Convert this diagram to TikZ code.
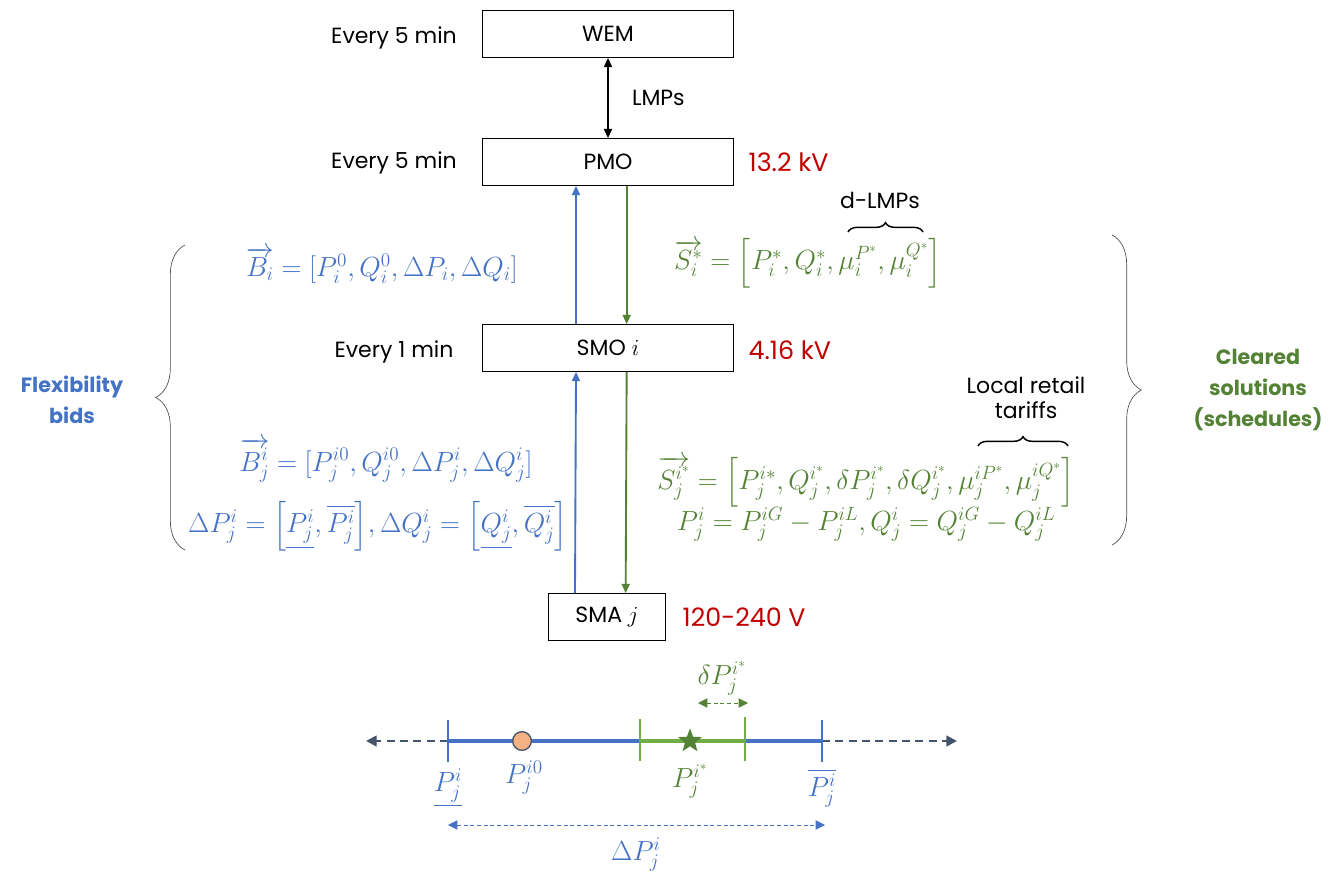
\documentclass[tikz,border=0pt]{standalone}
\usepackage{fontspec}
\setmainfont{Poppins}
\usepackage{amsmath}
\usetikzlibrary{arrows.meta,positioning,calc,decorations.pathreplacing,shapes.geometric}
\definecolor{bidblue}{HTML}{4472C4}
\definecolor{solgreen}{HTML}{548235}
\definecolor{lightgreen}{HTML}{70AD47}
\definecolor{voltred}{HTML}{C00000}
\definecolor{dashgray}{HTML}{44546A}
\definecolor{peach}{HTML}{F4B183}
\newcommand\basefont{\fontsize{16.5}{19}\selectfont}
\newcommand\eqfont{\fontsize{19.5}{22}\selectfont}
\tikzset{
  agent/.style={draw, line width=.7pt, minimum width=188pt, minimum height=35pt,
    inner sep=0pt, font=\basefont},
  rate/.style={font=\basefont},
  volt/.style={text=voltred, font=\fontsize{19}{22}\selectfont, anchor=west},
  bideq/.style={text=bidblue, font=\eqfont, inner sep=1pt},
  soleq/.style={text=solgreen, font=\eqfont, inner sep=1pt},
  note/.style={font=\basefont, align=center},
  side/.style={font=\fontsize{15.5}{23}\selectfont\bfseries, align=center},
  flow/.style={line width=1.4pt, -{Triangle[length=7pt,width=6pt]}},
  bigbrace/.style={decorate, decoration={brace, amplitude=22pt}, line width=.5pt, draw=black!70},
  smallbrace/.style={decorate, decoration={brace, amplitude=7pt}, line width=1.1pt},
  rangeline/.style={dash pattern=on 3pt off 2pt, line width=.6pt, {Triangle[length=7pt,width=7pt]}-{Triangle[length=7pt,width=7pt]}},
  tick/.style={line width=1.6pt},
}

\begin{document}
\begin{tikzpicture}[x=0.75pt,y=-0.75pt]
\useasboundingbox (0,0) rectangle (1329,878);

% ----- market agents -----
\node[agent] (wem) at (608,34) {WEM};
\node[agent] (pmo) at (608,162) {PMO};
\node[agent] (smo) at (608,348) {SMO $i$};
\node[agent, minimum width=88pt] (sma) at (607,617) {SMA $j$};

% ----- clearing intervals -----
\node[rate] (r1) at (394,38) {Every 5 min};
\node[rate] (r2) at (394,163) {Every 5 min};
\node[rate] (r3) at (394,352) {Every 1 min};

% ----- voltage levels -----
\node[volt] (v1) at (744,162) {13.2 kV};
\node[volt] (v2) at (744,350) {4.16 kV};
\node[volt] (v3) at (678,617) {120-240 V};

% ----- flows between levels -----
\draw[flow, {Triangle[length=7pt,width=6pt]}-{Triangle[length=7pt,width=6pt]}] (wem.south) -- node[note, right=14pt]{LMPs} (pmo.north);
\draw[flow, bidblue] ([xshift=-24pt]smo.north) -- ([xshift=-24pt]pmo.south);
\draw[flow, solgreen] ([xshift=14pt]pmo.south) -- ([xshift=14pt]smo.north);
\draw[flow, bidblue] ([xshift=-24pt]sma.north) -- ([xshift=-24pt]smo.south);
\draw[flow, solgreen] ([xshift=14pt]smo.south) -- ([xshift=14pt]sma.north);

% ----- bids (upward) -----
\node[bideq] (bi) at (382,265) {$\overrightarrow{B_i}=[P_i^0,Q_i^0,\Delta P_i,\Delta Q_i]$};
\node[bideq] (bj) at (386,460) {$\overrightarrow{B_j^i}=[P_j^{i0},Q_j^{i0},\Delta P_j^i,\Delta Q_j^i]$};
\node[bideq] (dp) at (378,526) {$\Delta P_j^i=\Bigl[\underline{P_j^i},\overline{P_j^i}\Bigr],\Delta Q_j^i=\Bigl[\underline{Q_j^i},\overline{Q_j^i}\Bigr]$};

% ----- solutions (downward) -----
\node[soleq] (si) at (808,263) {$\overrightarrow{S_i^*}=\Bigl[P_i^*,Q_i^*,\mu_i^{P^*},\mu_i^{Q^*}\Bigr]$};
\node[soleq] (sj) at (866,482) {$\overrightarrow{S_j^{i^*}}=\Bigl[P_j^{i*},Q_j^{i^*},\delta P_j^{i^*},\delta Q_j^{i^*},\mu_j^{iP^*},\mu_j^{iQ^*}\Bigr]$};
\node[soleq] (pj) at (866,524) {$P_j^i=P_j^{iG}-P_j^{iL},Q_j^i=Q_j^{iG}-Q_j^{iL}$};

% ----- price annotations -----
\draw[smallbrace] (848,232) -- (923,232);
\node[note] (dlmp) at (880,200) {d-LMPs};
\draw[smallbrace] (978,446) -- (1068,446);
\node[note] (tariff) at (1026,398) {Local retail\\tariffs};

% ----- side braces -----
\draw[bigbrace] (185,550) -- (185,245);
\node[side, text=bidblue] (flex) at (72,400) {Flexibility\\bids};
\draw[bigbrace] (1112,235) -- (1112,545);
\node[side, text=solgreen] (clear) at (1258,390) {Cleared\\solutions\\(schedules)};

% ----- flexibility range of SMA j -----
\coordinate (lo) at (448,741);
\coordinate (hi) at (822,741);
\coordinate (glo) at (640,741);
\coordinate (ghi) at (745,741);
\draw[dashgray, dash pattern=on 6pt off 4pt, line width=1.8pt, -{Triangle[length=8pt,width=8pt]}] (lo) -- (366,741);
\draw[dashgray, dash pattern=on 6pt off 4pt, line width=1.8pt, -{Triangle[length=8pt,width=8pt]}] (hi) -- (957,741);
\draw[bidblue, line width=2.6pt] (lo) -- (hi);
\draw[lightgreen, line width=2.6pt] (glo) -- (ghi);
\draw[tick, bidblue] ($(lo)+(0,-21)$) -- ($(lo)+(0,21)$);
\draw[tick, bidblue] ($(hi)+(0,-21)$) -- ($(hi)+(0,21)$);
\draw[tick, lightgreen] ($(glo)+(0,-22)$) -- ($(glo)+(0,20)$);
\draw[tick, lightgreen] ($(ghi)+(0,-24)$) -- ($(ghi)+(0,20)$);
\node[circle, draw=dashgray, line width=1pt, fill=peach, minimum size=14pt, inner sep=0pt] (p0) at (522,741) {};
\node[star, star points=5, star point ratio=2.4, fill=solgreen, minimum size=19pt, inner sep=0pt] (pstar) at (690,741) {};

\node[bideq] (plo) at (448,788) {$\underline{P_j^i}$};
\node[bideq] (pini) at (524,778) {$P_j^{i0}$};
\node[soleq] (popt) at (690,781) {$P_j^{i^*}$};
\node[bideq] (phi) at (822,788) {$\overline{P_j^i}$};

\draw[rangeline, bidblue] (448,825) -- (825,825);
\node[bideq] (dpr) at (636,855) {$\Delta P_j^i$};
\draw[rangeline, solgreen] (698,703) -- (748,703);
\node[soleq] (dpo) at (722,678) {$\delta P_j^{i^*}$};

\end{tikzpicture}
\end{document}
